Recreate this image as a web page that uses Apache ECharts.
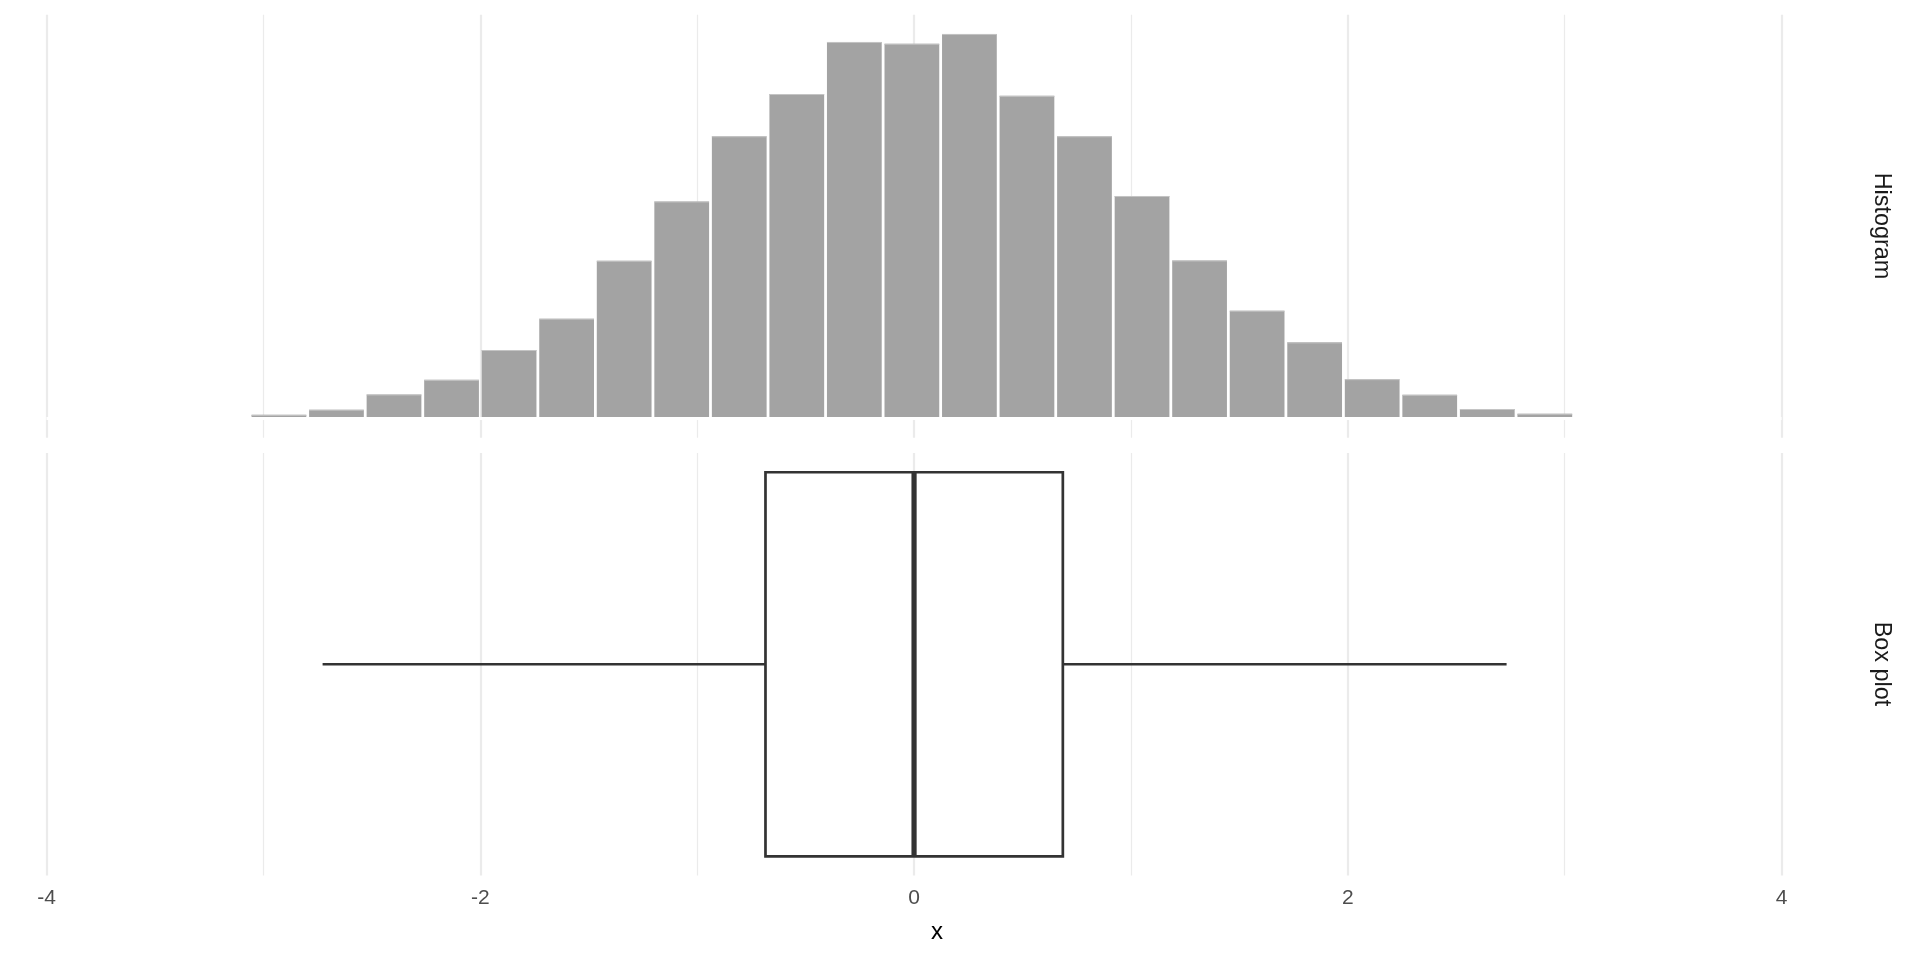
<!DOCTYPE html>
<html>
<head>
<meta charset="utf-8">
<script src="https://cdn.jsdelivr.net/npm/echarts@6/dist/echarts.min.js"></script>
<style>
html,body{margin:0;padding:0;background:#fff;}
#chart{width:1920px;height:960px;}
</style>
</head>
<body>
<div id="chart"></div>
<script>
// ---- data ----
const binStart = -3.061;
const binWidth = 0.2653;
const histCounts = [10, 24, 66, 106, 188, 274, 433, 596, 775, 891, 1034, 1029, 1056, 886, 775, 611, 434, 296, 209, 108, 65, 26, 13];
// box plot stats: [lower whisker, Q1, median, Q3, upper whisker]
const boxStats = [-2.727, -0.685, 0.0, 0.686, 2.732];
const tickValues = [-4, -2, 0, 2, 4];
const facetLabels = ['Histogram', 'Box plot'];
const xTitle = 'x';

// ---- derived ----
const histData = histCounts.map((c, i) => [binStart + i * binWidth, binStart + (i + 1) * binWidth, c]);
const maxCount = Math.max(...histCounts);
const yPad = maxCount * 0.05;

const FONT = '"Liberation Sans", Arial, Helvetica, sans-serif';
const gridColor = '#EBEBEB';
const L = 46.5, W = 1735.1;

function xAxisCfg(gridIndex, showLabels) {
  return {
    type: 'value', gridIndex: gridIndex, min: -4, max: 4, interval: 2,
    axisLine: {show: false}, axisTick: {show: false},
    axisLabel: {
      show: showLabels, color: '#4D4D4D', fontSize: 21, fontFamily: FONT, margin: 12,
      formatter: v => tickValues.indexOf(v) >= 0 ? String(v) : ''
    },
    splitLine: {show: true, lineStyle: {color: gridColor, width: 2.2}},
    minorTick: {show: false, splitNumber: 2},
    minorSplitLine: {show: true, lineStyle: {color: gridColor, width: 1.2}}
  };
}

const chart = echarts.init(document.getElementById('chart'), null, {renderer: 'canvas'});
const option = {
  backgroundColor: '#ffffff',
  animation: false,
  grid: [
    {left: L, width: W, top: 14.7, height: 423},
    {left: L, width: W, top: 453, height: 422.6}
  ],
  xAxis: [xAxisCfg(0, false), xAxisCfg(1, true)],
  yAxis: [
    {type: 'value', gridIndex: 0, min: -yPad, max: maxCount + yPad, show: false, splitLine: {show: false}},
    {type: 'category', gridIndex: 1, data: ['x'], show: false, boundaryGap: true}
  ],
  series: [
    {
      type: 'custom', xAxisIndex: 0, yAxisIndex: 0, z: 3,
      encode: {x: [0, 1], y: 2},
      data: histData,
      renderItem: function (params, api) {
        const p0 = api.coord([api.value(0), 0]);
        const p1 = api.coord([api.value(1), api.value(2)]);
        const inset = 1.4;
        return {
          type: 'group',
          children: [
            {type: 'rect',
              shape: {x: p0[0] + inset, y: p1[1], width: p1[0] - p0[0] - 2 * inset, height: p0[1] - p1[1]},
              style: {fill: '#A3A3A3'}},
            {type: 'line',
              shape: {x1: p0[0] + inset, y1: p1[1] + 0.5, x2: p1[0] - inset, y2: p1[1] + 0.5},
              style: {stroke: '#C4C4C4', lineWidth: 1}}
          ]
        };
      },
      markLine: {
        silent: true, symbol: 'none', label: {show: false},
        lineStyle: {color: '#ffffff', width: 3.2, type: 'solid'},
        data: [{yAxis: 0}]
      }
    },
    {
      type: 'custom', xAxisIndex: 1, yAxisIndex: 1, z: 3,
      encode: {x: [1, 2, 3, 4, 5], y: 0},
      data: [[0].concat(boxStats)],
      renderItem: function (params, api) {
        const lo = api.value(1), q1 = api.value(2), med = api.value(3), q3 = api.value(4), hi = api.value(5);
        const c = api.coord([q1, 0]);
        const band = api.size([0, 1])[1];
        const h = band * 0.909;
        const yTop = c[1] - h / 2, yBot = c[1] + h / 2;
        const xq1 = api.coord([q1, 0])[0], xq3 = api.coord([q3, 0])[0];
        const xm = api.coord([med, 0])[0];
        const xlo = api.coord([lo, 0])[0], xhi = api.coord([hi, 0])[0];
        const stroke = '#333333';
        return {
          type: 'group',
          children: [
            {type: 'line', shape: {x1: xlo, y1: c[1], x2: xq1, y2: c[1]}, style: {stroke: stroke, lineWidth: 2.5}},
            {type: 'line', shape: {x1: xq3, y1: c[1], x2: xhi, y2: c[1]}, style: {stroke: stroke, lineWidth: 2.5}},
            {type: 'rect', shape: {x: xq1, y: yTop, width: xq3 - xq1, height: yBot - yTop}, style: {fill: '#ffffff', stroke: stroke, lineWidth: 2.7}},
            {type: 'line', shape: {x1: xm, y1: yTop, x2: xm, y2: yBot}, style: {stroke: stroke, lineWidth: 5.2}}
          ]
        };
      }
    }
  ],
  graphic: [
    {type: 'text', x: 1881, y: 226, rotation: -Math.PI / 2,
      style: {text: facetLabels[0], fill: '#1A1A1A', font: '23.4px ' + FONT, textAlign: 'center', textVerticalAlign: 'middle'}},
    {type: 'text', x: 1881, y: 664, rotation: -Math.PI / 2,
      style: {text: facetLabels[1], fill: '#1A1A1A', font: '23.4px ' + FONT, textAlign: 'center', textVerticalAlign: 'middle'}},
    {type: 'text', x: 937, y: 932,
      style: {text: xTitle, fill: '#000000', font: '24px ' + FONT, textAlign: 'center', textVerticalAlign: 'middle'}}
  ]
};
chart.setOption(option);
</script>
</body>
</html>
